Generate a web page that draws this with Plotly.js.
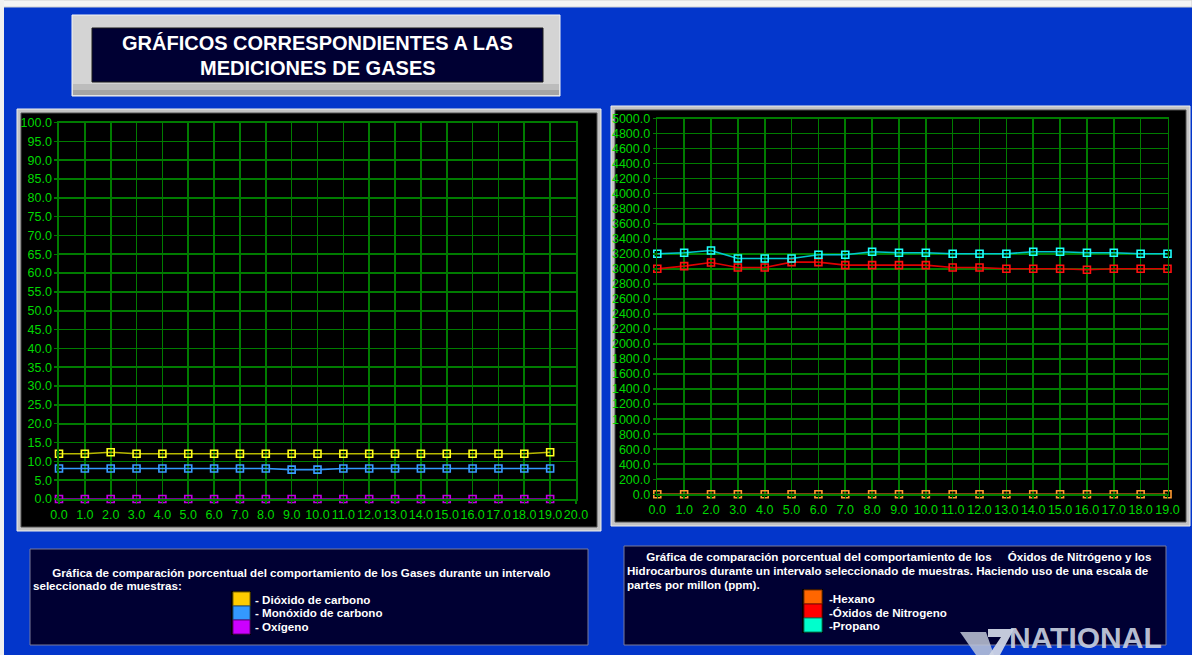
<!DOCTYPE html>
<html>
<head>
<meta charset="utf-8">
<script src="https://cdn.plot.ly/plotly-3.0.1.min.js"></script>
<style>html,body{margin:0;padding:0;background:#0336cb;}#chart{width:1192px;height:655px;}</style>
</head>
<body>
<div id="chart"></div>
<script>
// ---- data ----
const samples = [0,1,2,3,4,5,6,7,8,9,10,11,12,13,14,15,16,17,18,19];
const dioxidoCarbono = [12,12,12.4,12,12,12,12,12,12,12,12,12,12,12,12,12,12,12,12,12.4];
const monoxidoCarbono = [8.1,8.1,8.1,8.1,8.1,8.1,8.1,8.1,8.1,7.8,7.8,8.1,8.1,8.1,8.1,8.1,8.1,8.1,8.1,8.1];
const oxigeno = [0,0,0,0,0,0,0,0,0,0,0,0,0,0,0,0,0,0,0,0];
const hexano = [0,0,0,0,0,0,0,0,0,0,0,0,0,0,0,0,0,0,0,0];
const oxidosNitrogeno = [3000,3036,3084,3018,3018,3089,3089,3049,3049,3049,3049,3018,3018,3000,3000,3000,2987,3000,3000,3000];
const propano = [3200,3213,3244,3138,3138,3138,3187,3187,3227,3213,3213,3200,3200,3200,3227,3227,3213,3213,3200,3200];

const titleLines = ['GRÁFICOS CORRESPONDIENTES A LAS', 'MEDICIONES DE GASES'];
const NB = '\u00a0';
const leftLegendTitle = [NB.repeat(6) + 'Gráfica de comparación porcentual del comportamiento de los Gases durante un intervalo', 'seleccionado de muestras:'];
const leftLegendItems = ['- Dióxido de carbono', '- Monóxido de carbono', '- Oxígeno'];
const rightLegendTitle = [NB.repeat(6) + 'Gráfica de comparación porcentual del comportamiento de los' + NB.repeat(5) + 'Óxidos de Nitrógeno y los', 'Hidrocarburos durante un intervalo seleccionado de muestras. Haciendo uso de una escala de', 'partes por millon (ppm).'];
const rightLegendItems = ['-Hexano', '-Óxidos de Nitrogeno', '-Propano'];

// ---- layout helpers ----
const W = 1192, H = 655;
function R(x0, y0, x1, y1, fill, line, lw) {
  return {type:'rect', xref:'paper', yref:'paper', x0:x0/W, x1:x1/W, y0:1-y1/H, y1:1-y0/H,
    fillcolor:fill, line:{color:line||fill, width:lw||0}, layer:'below'};
}
function P(path, fill) {
  const p = path.replace(/([ML]) (\d+(?:\.\d+)?) (\d+(?:\.\d+)?)/g, (m, c, x, y) => c + ' ' + (x/W) + ',' + (1-y/H));
  return {type:'path', xref:'paper', yref:'paper', path:p, fillcolor:fill, line:{width:0}, layer:'above'};
}
function T(text, x, y, size, color, xanchor, bold, yanchor) {
  return {xref:'paper', yref:'paper', x:x/W, y:1-y/H, text: bold ? '<b>'+text+'</b>' : text, showarrow:false,
    xanchor:xanchor||'left', yanchor:yanchor||'middle', borderpad:0,
    font:{size:size, color:color, family:'Liberation Sans, Arial, sans-serif'}};
}

const green = '#00d800';
const gridGreen = '#007c00';

function mk(x, y, xa, ya, lineColor, markColor) {
  return {x:x, y:y, xaxis:xa, yaxis:ya, type:'scatter', mode:'lines+markers', cliponaxis:false,
    line:{color:lineColor, width:1.6},
    marker:{symbol:'square-open', size:7, color:markColor, line:{width:1.6, color:markColor}},
    hoverinfo:'skip', showlegend:false};
}

const traces = [
  mk(samples, oxigeno, 'x', 'y', '#a000c8', '#c000e0'),
  mk(samples, monoxidoCarbono, 'x', 'y', '#3399ff', '#3a9cff'),
  mk(samples, dioxidoCarbono, 'x', 'y', '#b8b800', '#ffff20'),
  mk(samples, hexano, 'x2', 'y2', '#ff8020', '#ff9a30'),
  mk(samples, oxidosNitrogeno, 'x2', 'y2', '#e00000', '#ff1010'),
  mk(samples, propano, 'x2', 'y2', '#00c8d0', '#20ffff'),
];

function axisBase(extra) {
  return Object.assign({
    showgrid:true, gridcolor:gridGreen, gridwidth:1.6, zeroline:false,
    showline:true, linecolor:gridGreen, linewidth:1.6, mirror:true,
    ticks:'outside', ticklen:3, tickcolor:gridGreen, tickwidth:1.5,
    tickformat:'.1f', tickfont:{family:'Liberation Sans, Arial, sans-serif', size:12.5, color:green},
    fixedrange:true
  }, extra);
}

const shapes = [
  R(0, 0, W, 7, '#f4f4f4', '#d0d0d0', 1),
  R(0, 0, 4, H, '#f0f0f0'),
  // title box
  R(72, 15, 560, 96, '#d4d4d4', '#f4f4f4', 1),
  R(73, 84, 559, 95, '#bcbcbc'),
  R(73, 90, 559, 95, '#a4a4a4'),
  R(92, 28, 543, 82, '#000033', '#1a1a1a', 1),
  // left chart frame
  R(17, 109, 601, 531, '#c4c4c4', '#eeeeee', 1),
  R(21, 113, 597, 527, '#000000', '#505050', 1),
  // right chart frame
  R(611, 106, 1190, 526, '#c4c4c4', '#eeeeee', 1),
  R(615, 110, 1186, 522, '#000000', '#505050', 1),
  // legend boxes
  R(30, 549, 588, 645, '#000033', '#7a7a9a', 1),
  R(624, 546, 1166, 645, '#000033', '#7a7a9a', 1),
  // left swatches
  R(231, 591, 251, 635, '#000000'),
  R(233, 592, 250, 606, '#ffcc00', '#806400', 1),
  R(233, 606, 250, 620, '#3399ff', '#1a4d80', 1),
  R(233, 620, 250, 634, '#cc00ff', '#600080', 1),
  // right swatches
  R(802, 589, 823, 633, '#000000'),
  R(804, 590, 822, 604, '#ff6600', '#803300', 1),
  R(804, 604, 822, 618, '#ff0000', '#800000', 1),
  R(804, 618, 822, 632, '#00ffcc', '#008066', 1),
  // NATIONAL logo mark
  P('M 960 632 L 986 632 L 994 655 L 976 655 Z', 'rgba(190,198,215,0.85)'),
  P('M 988 629 L 1014 629 L 1000 655 L 989 655 L 1001 637 L 988 637 Z', 'rgba(205,212,228,0.95)'),
];

const fs = 11.6;
const annotations = [
  T(titleLines[0], 317.5, 43, 20, '#ffffff', 'center', true),
  T(titleLines[1], 317.5, 68, 20, '#ffffff', 'center', true),
  T(leftLegendTitle[0], 32, 572, fs, '#ffffff', 'left', true),
  T(leftLegendTitle[1], 32, 585, fs, '#ffffff', 'left', true),
  T(leftLegendItems[0], 254, 599, fs, '#ffffff', 'left', true),
  T(leftLegendItems[1], 254, 612.5, fs, '#ffffff', 'left', true),
  T(leftLegendItems[2], 254, 626, fs, '#ffffff', 'left', true),
  T(rightLegendTitle[0], 626, 556.5, fs, '#ffffff', 'left', true),
  T(rightLegendTitle[1], 626, 570.5, fs, '#ffffff', 'left', true),
  T(rightLegendTitle[2], 626, 584.5, fs, '#ffffff', 'left', true),
  T(rightLegendItems[0], 828, 598.5, fs, '#ffffff', 'left', true),
  T(rightLegendItems[1], 828, 612, fs, '#ffffff', 'left', true),
  T(rightLegendItems[2], 828, 625.5, fs, '#ffffff', 'left', true),
  T('NATIONAL', 1008, 655, 30, 'rgba(200,208,225,0.92)', 'left', true, 'bottom'),
];

const layout = {
  width: W, height: H,
  margin: {l:0, r:0, t:0, b:0, pad:0},
  paper_bgcolor: '#0336cb',
  plot_bgcolor: '#000000',
  showlegend: false,
  xaxis: axisBase({domain:[59/W, 576/W], range:[0, 20], tickmode:'linear', tick0:0, dtick:1, tickangle:0, anchor:'y'}),
  yaxis: axisBase({domain:[1-499/H, 1-122.5/H], range:[0, 100], tickmode:'linear', tick0:0, dtick:5, anchor:'x'}),
  xaxis2: axisBase({domain:[657.3/W, 1167.5/W], range:[0, 19], tickmode:'linear', tick0:0, dtick:1, tickangle:0, anchor:'y2'}),
  yaxis2: axisBase({domain:[1-494.3/H, 1-118.5/H], range:[0, 5000], tickmode:'linear', tick0:0, dtick:200, anchor:'x2'}),
  shapes: shapes,
  annotations: annotations,
};

Plotly.newPlot('chart', traces, layout, {staticPlot:true, displayModeBar:false});
</script>
</body>
</html>
